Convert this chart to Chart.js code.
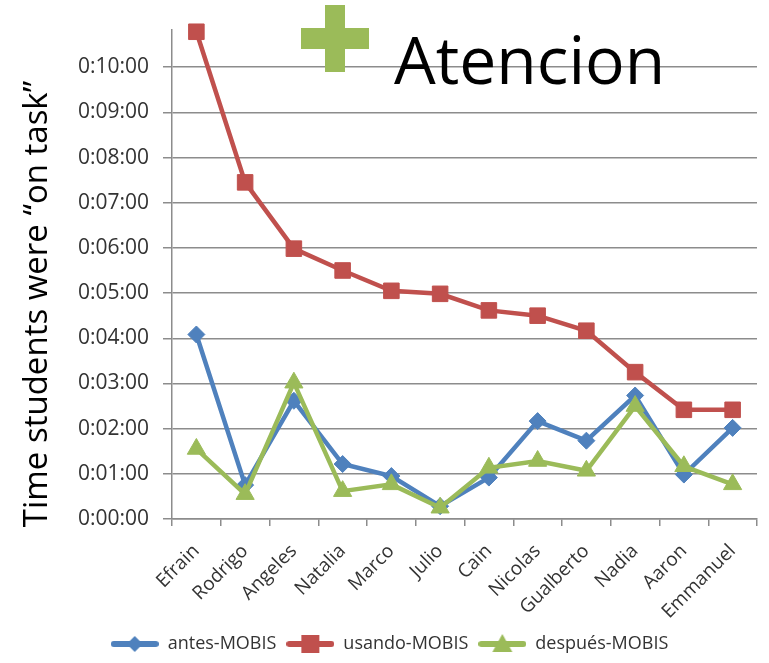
<!DOCTYPE html>
<html>
<head>
<meta charset="utf-8">
<script src="https://cdn.jsdelivr.net/npm/chart.js@4.4.0/dist/chart.umd.min.js"></script>
<style>
html,body{margin:0;padding:0;background:#fff;}
#wrap{width:769px;height:663px;position:relative;}
</style>
</head>
<body>
<div id="wrap"><canvas id="c" width="769" height="663"></canvas></div>
<script>
// Data (values in seconds)
const categories = ["Efrain","Rodrigo","Angeles","Natalia","Marco","Julio","Cain","Nicolas","Gualberto","Nadia","Aaron","Emmanuel"];
const antesMOBIS   = [245, 45, 157, 73, 57, 17, 55, 130, 104, 164, 59, 121];
const usandoMOBIS  = [647, 447, 359, 330, 303, 299, 277, 270, 250, 195, 145, 145];
const despuesMOBIS = [93, 33, 181, 37, 46, 15, 68, 77, 64, 150, 70, 46];
const seriesNames = ["antes-MOBIS", "usando-MOBIS", "después-MOBIS"];
const titleText = "Atencion";
const yTitleText = "Time students were \u201Con task\u201D";

function fmt(v){
  const m = Math.floor(v/60), s = Math.round(v%60);
  return "0:" + String(m).padStart(2,"0") + ":" + String(s).padStart(2,"0");
}

const C_BLUE = "#4F81BD", C_RED = "#C0504D", C_GREEN = "#9BBB59";
const GRID = "#8c8c8c";
const FONT = "'Open Sans', sans-serif";

function legendImg(color, style){
  const cv = document.createElement('canvas');
  cv.width = 48; cv.height = 22;
  const g = cv.getContext('2d');
  g.strokeStyle = color; g.lineWidth = 6; g.lineCap = 'round';
  g.beginPath(); g.moveTo(3,11); g.lineTo(45,11); g.stroke();
  g.fillStyle = color;
  g.beginPath();
  if (style === 'diamond'){ g.moveTo(24,3); g.lineTo(32,11); g.lineTo(24,19); g.lineTo(16,11); }
  else if (style === 'square'){ g.rect(15,2,18,18); }
  else { g.moveTo(24,1); g.lineTo(34,19); g.lineTo(14,19); }
  g.closePath(); g.fill();
  return cv;
}
const legendImgs = [legendImg(C_BLUE,'diamond'), legendImg(C_RED,'square'), legendImg(C_GREEN,'triangle')];

const overlayPlugin = {
  id: 'overlay',
  afterDraw(chart){
    const ctx = chart.ctx;
    ctx.save();
    // green plus
    ctx.fillStyle = C_GREEN;
    ctx.fillRect(301, 28, 68, 21);
    ctx.fillRect(325, 5, 20, 67);
    // title
    ctx.fillStyle = "#000";
    ctx.font = "66px " + FONT;
    ctx.textAlign = "left";
    ctx.textBaseline = "alphabetic";
    ctx.fillText(titleText, 394, 84);
    // y axis title
    ctx.translate(47, 304);
    ctx.rotate(-Math.PI/2);
    ctx.font = "33px " + FONT;
    ctx.textAlign = "center";
    ctx.fillText(yTitleText, 0, 0);
    ctx.restore();
  }
};

const ds = (label, data, color, style, r, order) => ({
  label, data, borderColor: color, backgroundColor: color,
  borderWidth: 4.5, pointStyle: style, pointRadius: r, pointHoverRadius: r,
  pointBorderWidth: 1, pointBorderColor: color, pointBackgroundColor: color,
  tension: 0, fill: false, clip: false, order
});

new Chart(document.getElementById('c'), {
  type: 'line',
  data: {
    labels: categories,
    datasets: [
      ds(seriesNames[0], antesMOBIS, C_BLUE, 'rectRot', 8.5, 3),
      ds(seriesNames[1], usandoMOBIS, C_RED, 'rect', 11, 2),
      ds(seriesNames[2], despuesMOBIS, C_GREEN, 'triangle', 10.5, 1)
    ]
  },
  plugins: [overlayPlugin],
  options: {
    responsive: false,
    animation: false,
    devicePixelRatio: 1,
    layout: { padding: { left: 16, right: 6, top: 29.5, bottom: 0 } },
    plugins: {
      title: { display: false },
      tooltip: { enabled: false },
      legend: {
        position: 'bottom',
        labels: {
          usePointStyle: true,
          pointStyleWidth: 48,
          padding: 10,
          color: '#333',
          font: { family: FONT, size: 18 },
          sort: (a,b) => a.datasetIndex - b.datasetIndex,
          generateLabels(chart){
            const items = Chart.defaults.plugins.legend.labels.generateLabels(chart);
            items.forEach(it => { it.pointStyle = legendImgs[it.datasetIndex]; });
            return items;
          }
        }
      }
    },
    scales: {
      x: {
        offset: true,
        grid: { display: true, drawOnChartArea: false, offset: true, tickLength: 7, color: GRID, lineWidth: 1.5 },
        border: { display: true, color: GRID, width: 1.5 },
        ticks: { autoSkip: false, minRotation: 45, maxRotation: 45, color: '#333', padding: 14, font: { family: FONT, size: 19 } },
        afterFit(scale){ scale.height = 106; scale.paddingLeft = 0; scale.paddingRight = 0; }
      },
      y: {
        min: 0, max: 650,
        grid: { color: GRID, lineWidth: 1.5, tickLength: 9 },
        border: { display: true, color: GRID, width: 1.5 },
        ticks: { stepSize: 60, includeBounds: false, color: '#333', padding: 14, font: { family: FONT, size: 21 }, callback: v => fmt(v) },
        afterFit(scale){ scale.width = 156; scale.paddingTop = 0; scale.paddingBottom = 0; }
      }
    }
  }
});
</script>
</body>
</html>
